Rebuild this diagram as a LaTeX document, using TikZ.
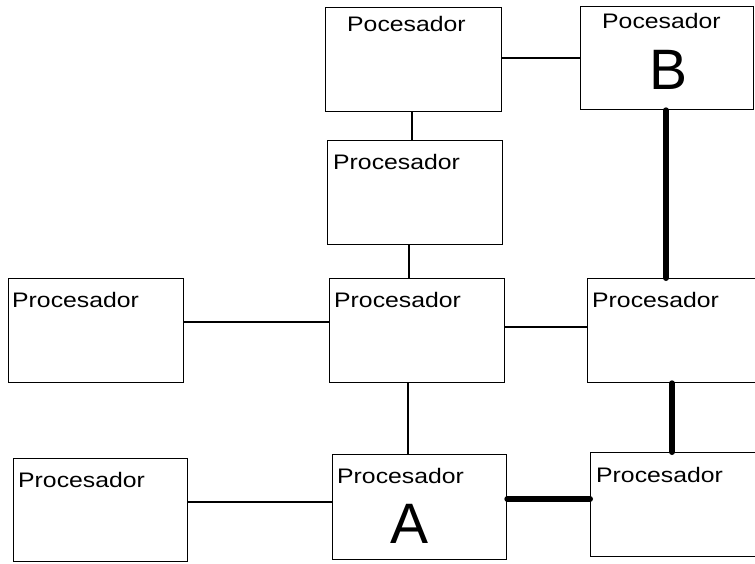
\documentclass[tikz,border=0pt]{standalone}
\usepackage{fontspec}
\newfontfamily\lblfont[FakeStretch=1.18]{Liberation Sans}
\newfontfamily\bigfont{Liberation Sans}
\begin{document}
\begin{tikzpicture}[x=1pt,y=-1pt,
  procbox/.style={draw=black, line width=1.3pt, fill=white, rectangle, inner sep=0pt, anchor=north west},
  lbl/.style={anchor=base west, inner sep=0pt, font=\lblfont\fontsize{21}{21}\selectfont},
  biglbl/.style={anchor=base, inner sep=0pt, font=\bigfont\fontsize{57}{57}\selectfont},
  link/.style={line width=1.3pt},
  path/.style={line width=6pt, line cap=round}]
\clip (0,0) rectangle (755,563);
\fill[white] (0,0) rectangle (755,563);

% processor boxes (top-left corner, width, height)
\node[procbox, minimum width=176pt, minimum height=104pt] (b1) at (325,7) {};
\node[procbox, minimum width=173pt, minimum height=103pt] (b2) at (580,6) {};
\node[procbox, minimum width=175pt, minimum height=104pt] (b3) at (327,140) {};
\node[procbox, minimum width=175pt, minimum height=104pt] (b4) at (8,278) {};
\node[procbox, minimum width=175pt, minimum height=104pt] (b5) at (329,278) {};
\node[procbox, minimum width=180pt, minimum height=104pt] (b6) at (587,278) {};
\node[procbox, minimum width=174pt, minimum height=103pt] (b7) at (13,458) {};
\node[procbox, minimum width=174pt, minimum height=105pt] (b8) at (332,454) {};
\node[procbox, minimum width=180pt, minimum height=104pt] (b9) at (590,452) {};

% labels
\node[lbl] (t1) at (347,31) {Pocesador};
\node[lbl] (t2) at (602,28) {Pocesador};
\node[lbl] (t3) at (333,169) {Procesador};
\node[lbl] (t4) at (12,307) {Procesador};
\node[lbl] (t5) at (334,307) {Procesador};
\node[lbl] (t6) at (592,307) {Procesador};
\node[lbl] (t7) at (18,487) {Procesador};
\node[lbl] (t8) at (337,483) {Procesador};
\node[lbl] (t9) at (596,482) {Procesador};
\node[biglbl] (tb) at (669,89) {B};
\node[biglbl] (ta) at (410,543) {A};

% plain links
\draw[link] (b1.east |- 0,58) -- (b2.west |- 0,58);
\draw[link] (b1.south -| 412,0) -- (b3.north -| 412,0);
\draw[link] (b3.south -| 409,0) -- (b5.north -| 409,0);
\draw[link] (b4.east |- 0,322) -- (b5.west |- 0,322);
\draw[link] (b5.east |- 0,327) -- (b6.west |- 0,327);
\draw[link] (b5.south -| 408,0) -- (b8.north -| 408,0);
\draw[link] (b7.east |- 0,502) -- (b8.west |- 0,502);

% highlighted route from A to B
\draw[path] (b8.east |- 0,499) -- (b9.west |- 0,499);
\draw[path] (b9.north -| 672,0) -- (b6.south -| 672,0);
\draw[path] (b6.north -| 666,0) -- (b2.south -| 666,0);
\end{tikzpicture}
\end{document}
